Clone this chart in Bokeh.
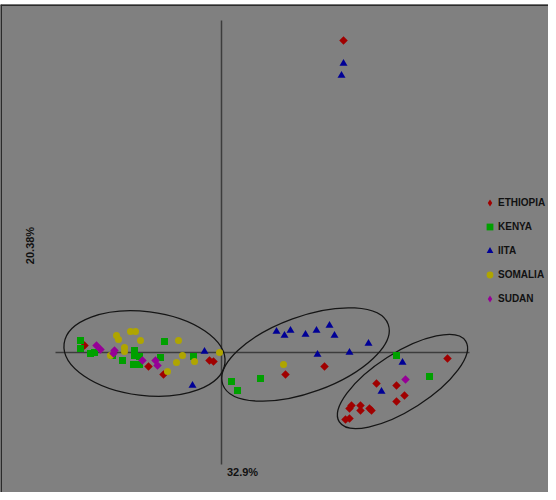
import math
from bokeh.plotting import figure
from bokeh.models import Range1d, Legend, LegendItem, Span
from bokeh.core.properties import value
from bokeh.embed import file_html
from bokeh.resources import INLINE

# ---- data (PC1, PC2 scores) ----
eth_x = [6.10, -6.85, -3.65, -2.90, -0.60, -0.40, 3.20, 5.15, 11.30, 7.75, 8.75, 9.15, 8.75,
         6.50, 6.40, 6.95, 6.95, 7.40, 7.50, 6.20, 6.40]
eth_y = [15.60, 0.35, -0.70, -1.10, -0.40, -0.45, -1.10, -0.70, -0.30, -1.55, -1.65, -2.15, -2.45,
         -2.65, -2.80, -2.65, -2.90, -2.80, -2.90, -3.35, -3.30]

ken_x = [-7.05, -7.05, -6.55, -6.35, -5.45, -4.95, -4.35, -4.35, -4.10, -4.40, -4.10, -2.85,
         -3.05, -1.40, 0.50, 0.80, 1.95, 8.75, 10.40]
ken_y = [0.60, 0.20, -0.05, 0.00, -0.15, -0.40, 0.10, -0.15, -0.20, -0.60, -0.60, 0.55,
         -0.25, -0.20, -1.45, -1.90, -1.30, -0.15, -1.20]

iita_x = [6.10, 6.00, -0.85, -1.45, 2.75, 3.15, 3.45, 4.20, 4.75, 5.40, 5.65, 4.80, 6.40, 7.35, 9.05, 8.00]
iita_y = [14.45, 13.85, 0.05, -1.65, 1.05, 0.85, 1.10, 0.90, 1.10, 1.35, 0.85, -0.10, 0.00, 0.45, -0.50, -1.95]

som_x = [-5.25, -5.15, -4.55, -4.30, -4.05, -4.85, -4.85, -5.55, -2.15, -1.95, -2.25, -1.35, -2.70, -0.10, 3.10]
som_y = [0.85, 0.65, 1.05, 1.05, 0.60, 0.25, 0.05, -0.15, 0.60, -0.15, -0.50, -0.45, -0.95, 0.00, -0.60]

sud_x = [-6.25, -6.05, -5.35, -5.40, -3.95, -3.30, -3.20, 9.20]
sud_y = [0.35, 0.15, 0.10, -0.05, -0.40, -0.40, -0.65, -1.35]

series_names = ["ETHIOPIA", "KENYA", "IITA", "SOMALIA", "SUDAN"]
pc1_label = "32.9%"
pc2_label = "20.38%"

# cluster outlines: center x, center y, width, height, angle (deg)
cl_x = [-3.85, 4.20, 9.05]
cl_y = [-0.05, -0.10, -1.45]
cl_w = [8.1, 8.8, 7.5]
cl_h = [4.2, 3.8, 2.85]
cl_a = [-7, 20, 32.6]

RED, GREEN, BLUE, YELLOW, MAGENTA = "#A00000", "#00A000", "#000096", "#AFA500", "#960096"

# ---- figure ----
p = figure(width=548, height=492, output_backend="svg", toolbar_location=None,
           x_range=Range1d(-11.05, 16.35), y_range=Range1d(-7.0, 17.4),
           min_border_left=0, min_border_right=0, min_border_top=4, min_border_bottom=0)
p.axis.visible = False
p.grid.visible = False
p.background_fill_color = "#808080"
p.border_fill_color = "white"
p.outline_line_color = None

# dark border on top and left only
p.add_layout(Span(location=17.4, dimension="width", line_color="#2b2b2b", line_width=3))
p.add_layout(Span(location=-11.05, dimension="height", line_color="#2b2b2b", line_width=3))

# axes through origin
p.segment(x0=[0, -8.3], y0=[16.6, 0], x1=[0, 12.4], y1=[-5.6, 0],
          line_color="#3c3c3c", line_width=1.5)

# cluster outlines
p.ellipse(x=cl_x, y=cl_y, width=cl_w, height=cl_h, angle=cl_a, angle_units="deg",
          fill_color=None, line_color="#151515", line_width=1.3)

# legend proxies (diamond swatches), hidden beneath the real markers
l_eth = p.scatter(eth_x[:1], eth_y[:1], marker="diamond", size=3, fill_color=RED, line_color=None)
l_sud = p.scatter(sud_x[:1], sud_y[:1], marker="diamond", size=3, fill_color=MAGENTA, line_color=None)

r_eth = p.scatter(eth_x, eth_y, marker="square", angle=math.pi / 4, size=6,
                  fill_color=RED, line_color=None)
r_ken = p.scatter(ken_x, ken_y, marker="square", size=7, fill_color=GREEN, line_color=None)
r_iita = p.scatter(iita_x, iita_y, marker="triangle", size=8, fill_color=BLUE, line_color=None)
r_som = p.scatter(som_x, som_y, marker="circle", size=7, fill_color=YELLOW, line_color=None)
r_sud = p.scatter(sud_x, sud_y, marker="square", angle=math.pi / 4, size=6,
                  fill_color=MAGENTA, line_color=None)

# axis variance labels
p.text(x=[1.05], y=[-5.95], text=[pc1_label], text_font=value("Liberation Sans"),
       text_font_style="bold", text_font_size="11px", text_color="#111111",
       text_align="center", text_baseline="middle")
p.text(x=[-9.6], y=[5.35], text=[pc2_label], angle=math.pi / 2, text_font=value("Liberation Sans"),
       text_font_style="bold", text_font_size="11px", text_color="#111111",
       text_align="center", text_baseline="middle")

legend = Legend(items=[LegendItem(label=n, renderers=[r]) for n, r in
                       zip(series_names, [l_eth, r_ken, r_iita, r_som, l_sud])],
                location=(481, 185))
legend.background_fill_alpha = 0
legend.border_line_color = None
legend.padding = 0
legend.margin = 0
legend.spacing = 7
legend.glyph_width = 17
legend.glyph_height = 17
legend.label_height = 17
legend.label_standoff = 0
legend.label_text_font = "Liberation Sans"
legend.label_text_font_style = "bold"
legend.label_text_font_size = "10px"
legend.label_text_color = "#111111"
p.add_layout(legend, "center")

open("out.html", "w").write(file_html(p, INLINE))
